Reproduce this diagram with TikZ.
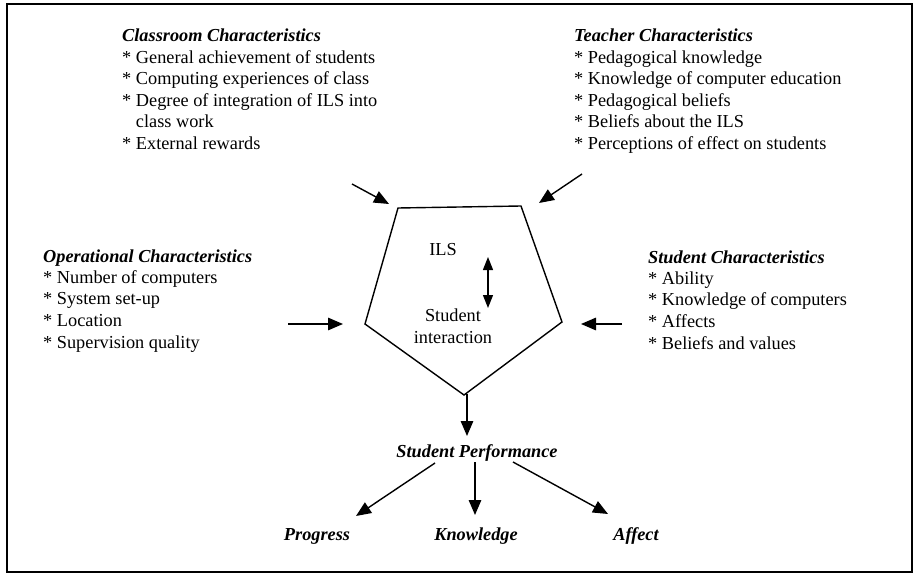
\documentclass[tikz,border=0pt]{standalone}
\usepackage{fontspec}
\setmainfont{Liberation Serif}
\usetikzlibrary{arrows.meta}
\tikzset{
  blk/.style={anchor=base west, inner sep=0pt, font=\fontsize{18.3}{21.5}\selectfont},
  lbl/.style={inner sep=0pt, font=\fontsize{18.3}{21.5}\selectfont},
  hd/.style={anchor=base, inner sep=0pt, font=\fontsize{18.3}{21.5}\selectfont\bfseries\itshape},
  arr/.style={-{Triangle[length=15pt,width=12.5pt]}, line width=1.4pt},
  darr/.style={{Triangle[length=13pt,width=10pt]}-{Triangle[length=13pt,width=10pt]}, line width=1.4pt},
  frame/.style={line width=2pt},
  pent/.style={line width=1.4pt, line join=miter}
}
\newcommand{\hdg}[1]{{\bfseries\itshape #1}}
\newcommand{\bul}{{*}\ }
\begin{document}
\begin{tikzpicture}[x=1pt,y=-1pt]
\useasboundingbox (0,0) rectangle (914,575);
\draw[frame] (6.5,4) rectangle (911.5,572);

% text blocks
\node[blk] (class) at (122,42) {\begin{tabular}[t]{@{}l@{}}
\hdg{Classroom Characteristics}\\
\bul General achievement of students\\
\bul Computing experiences of class\\
\bul Degree of integration of ILS into\\
\hphantom{\bul}class work\\
\bul External rewards\end{tabular}};

\node[blk] (teach) at (574,42) {\begin{tabular}[t]{@{}l@{}}
\hdg{Teacher Characteristics}\\
\bul Pedagogical knowledge\\
\bul Knowledge of computer education\\
\bul Pedagogical beliefs\\
\bul Beliefs about the ILS\\
\bul Perceptions of effect on students\end{tabular}};

\node[blk] (oper) at (43,262) {\begin{tabular}[t]{@{}l@{}}
\hdg{Operational Characteristics}\\
\bul Number of computers\\
\bul System set-up\\
\bul Location\\
\bul Supervision quality\end{tabular}};

\node[blk] (stud) at (648,263) {\begin{tabular}[t]{@{}l@{}}
\hdg{Student Characteristics}\\
\bul Ability\\
\bul Knowledge of computers\\
\bul Affects\\
\bul Beliefs and values\end{tabular}};

% pentagon
\coordinate (p1) at (398,208);
\coordinate (p2) at (521,206);
\coordinate (p3) at (562,322);
\coordinate (p4) at (464,395);
\coordinate (p5) at (365,324);
\draw[pent] (p1) -- (p2) -- (p3) -- (p4) -- (p5) -- cycle;

\node[lbl] (ils) at (443,250) {ILS};
\node[lbl, align=center] (si) at (453,326) {Student\\interaction};
\coordinate (da1) at (488,257);
\coordinate (da2) at (488,308);
\draw[darr] (da1) -- (da2);

% input arrows
\coordinate (a1s) at (352,184);
\coordinate (a1e) at (389,204);
\coordinate (a2s) at (582,174);
\coordinate (a2e) at (539,203);
\coordinate (a3s) at (288,324);
\coordinate (a3e) at (343,324);
\coordinate (a4s) at (622,324);
\coordinate (a4e) at (581,324);
\draw[arr] (a1s) -- (a1e);
\draw[arr] (a2s) -- (a2e);
\draw[arr] (a3s) -- (a3e);
\draw[arr] (a4s) -- (a4e);

% output
\node[hd] (perf) at (477,457) {Student Performance};
\coordinate (up) at (467,394);
\coordinate (dn) at (467,436);
\draw[arr] (up) -- (dn);

\node[hd] (prog) at (317,540) {Progress};
\node[hd] (know) at (476,540) {Knowledge};
\node[hd] (aff) at (636,540) {Affect};

\coordinate (o1s) at (435,463);
\coordinate (o1e) at (356,516);
\coordinate (o2s) at (475,462);
\coordinate (o2e) at (475,515);
\coordinate (o3s) at (513,462);
\coordinate (o3e) at (608,514);
\draw[arr] (o1s) -- (o1e);
\draw[arr] (o2s) -- (o2e);
\draw[arr] (o3s) -- (o3e);
\end{tikzpicture}
\end{document}
